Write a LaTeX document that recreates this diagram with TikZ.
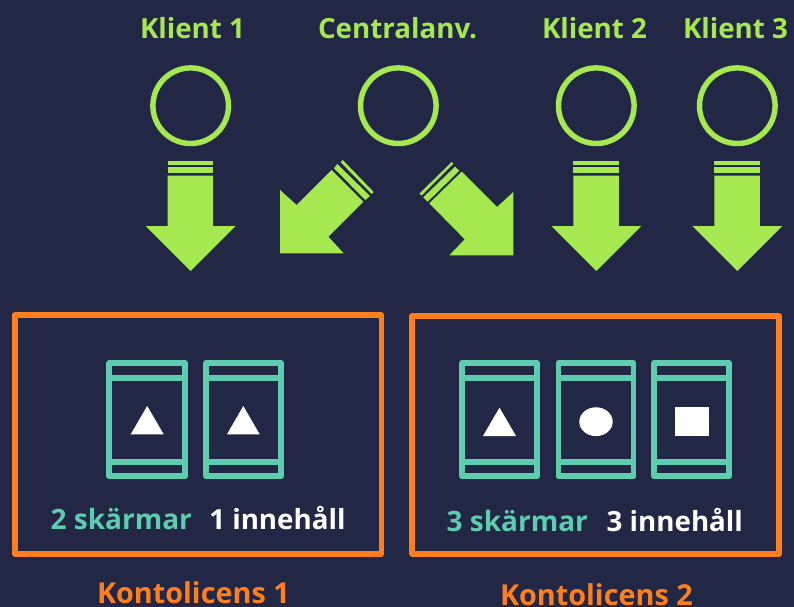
\documentclass[tikz,border=0pt]{standalone}
\usepackage{fontspec}
\setmainfont{Open Sans}
\definecolor{bgc}{HTML}{222745}
\definecolor{grn}{HTML}{A6E84F}
\definecolor{org}{HTML}{FF7F1F}
\definecolor{tea}{HTML}{5ECCAE}
\tikzset{
 txt/.style={anchor=base west,inner sep=0pt,outer sep=0pt},
 title/.style={txt,text=grn,font=\fontsize{20.8}{26}\selectfont\bfseries},
 kont/.style={txt,text=org,font=\fontsize{21.6}{26}\selectfont\bfseries},
 scr/.style={txt,text=tea,font=\fontsize{21}{26}\selectfont\bfseries},
 inh/.style={txt,text=white,font=\fontsize{20.8}{26}\selectfont\bfseries},
 ring/.style={draw=grn,line width=4.1pt},
 lic/.style={draw=org,line width=4.2pt,line join=round},
 frame/.style={draw=tea,line width=4.3pt,line join=round},
 rule/.style={draw=tea,line width=4.3pt},
 block/.style={fill=grn,draw=none},
 glyph/.style={fill=white,draw=none},
}
\newcommand{\downarrowblock}[1]{%
 \fill[block] (#1-23,161.3) rectangle (#1+22.5,164.7);
 \fill[block] (#1-23,167.3) rectangle (#1+22.5,173);
 \fill[block] (#1-23,175.7) -- (#1+22.5,175.7) -- (#1+22.5,226) -- (#1+45,226) -- (#1,271) -- (#1-45,226) -- (#1-23,226) -- cycle;
}
\newcommand{\screen}[3]{%
 \draw[frame] (#1,363.3+#3) rectangle (#2,476.3);
 \draw[rule] (#1,377.7) -- (#2,377.7);
 \draw[rule] (#1,462.3) -- (#2,462.3);
}
\begin{document}
\begin{tikzpicture}[x=0.75pt,y=-0.75pt]
\useasboundingbox (0,0) rectangle (794,607);
\fill[bgc] (0,0) rectangle (794,607);
% titles
\node[title] (t1) at (140,38) {Klient 1};
\node[title] (t2) at (318,38) {Centralanv.};
\node[title] (t3) at (542,38) {Klient 2};
\node[title] (t4) at (683,38) {Klient 3};
% rings
\draw[ring] (190.7,105.7) circle (37.8);
\draw[ring] (398.3,105.7) circle (37.8);
\draw[ring] (596.3,105.7) circle (37.8);
\draw[ring] (737.3,105.7) circle (37.8);
% arrows
\downarrowblock{190.7}
\downarrowblock{596.3}
\downarrowblock{737.3}
\fill[block] (280,190) -- (296.7,205) -- (331.7,170) -- (363.3,201.7) -- (328.3,236.7) -- (343.7,253.3) -- (280,253.3) -- cycle;
\fill[block] (334,168.3) -- (337.3,164) -- (370,196) -- (365.3,200) -- cycle;
\fill[block] (340.7,162.3) -- (342.7,160) -- (373.7,192) -- (371.7,194) -- cycle;
\fill[block] (513.3,255.3) -- (513.3,192) -- (497,207) -- (461.7,171.7) -- (429.3,203.3) -- (464.7,239.3) -- (449.3,255.3) -- cycle;
\fill[block] (455,166.7) -- (459.3,170.7) -- (427.7,201.7) -- (423.3,197.3) -- cycle;
\fill[block] (451.7,162) -- (453.3,163.7) -- (421.7,195.3) -- (419.3,193.7) -- cycle;
% licence boxes
\draw[lic] (14.7,315) rectangle (381.3,553.7);
\draw[lic] (412.2,315.7) rectangle (779.2,553.7);
% screens
\screen{109.3}{185}{0}
\screen{206}{281.3}{0}
\screen{462}{537.3}{0}
\screen{558.4}{633.6}{0}
\screen{654}{729.3}{0}
% glyphs
\fill[glyph] (130.7,434.3) -- (147.2,406) -- (163.7,434.3) -- cycle;
\fill[glyph] (227,434.3) -- (243.3,406) -- (259.7,434.3) -- cycle;
\fill[glyph] (483,436) -- (499.5,407.7) -- (516,436) -- cycle;
\fill[glyph] (596,421.7) ellipse (16.7 and 14.4);
\fill[glyph] (675,407) rectangle (709,436);
% counts
\node[scr] (s1) at (50.7,529) {2 skärmar};
\node[inh] (c1) at (209.3,529) {1 innehåll};
\node[scr] (s2) at (446.7,531.7) {3 skärmar};
\node[inh] (c2) at (606.7,531.7) {3 innehåll};
\node[kont] (k1) at (97,603) {Kontolicens 1};
\node[kont] (k2) at (500,605) {Kontolicens 2};
\end{tikzpicture}
\end{document}
